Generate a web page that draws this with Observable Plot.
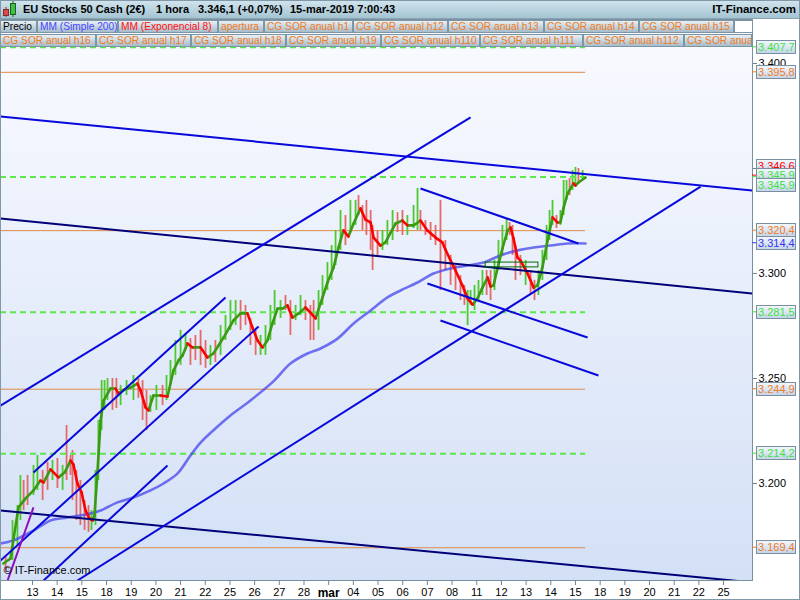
<!DOCTYPE html>
<html>
<head>
<meta charset="utf-8">
<script src="https://cdn.jsdelivr.net/npm/d3@7"></script>
<script src="https://cdn.jsdelivr.net/npm/@observablehq/plot@0.6"></script>
<style>
html,body{margin:0;padding:0;background:#fff;}
#wrap{position:relative;width:800px;height:600px;overflow:hidden;font-family:"Liberation Sans",Arial,sans-serif;}
#title{position:absolute;left:0;top:0;width:800px;height:19px;background:linear-gradient(#d2e5ee,#a4c4d2);border-bottom:1px solid #8aa4b2;box-sizing:border-box;font-weight:bold;font-size:11px;color:#000;}
#title span{position:absolute;top:3px;white-space:pre;}
#chart{position:absolute;left:0;top:19px;}
.leg{position:absolute;height:13px;box-sizing:border-box;border:1px solid #7d96a5;background:linear-gradient(#e8f0f4,#a6bccb);font-size:10.2px;line-height:11px;padding-left:2px;white-space:nowrap;overflow:hidden;}
#border{position:absolute;left:0;top:0;width:800px;height:600px;border:1px solid #8098a8;box-sizing:border-box;pointer-events:none;}
</style>
</head>
<body>
<div id="wrap">
  <div id="chart"></div>
  <div id="title">
    <svg style="position:absolute;left:2px;top:1px" width="18" height="17">
      <line x1="4" x2="4" y1="6" y2="16" stroke="#803030"/>
      <rect x="1.5" y="8.5" width="5" height="6" fill="#e04848" stroke="#803030"/>
      <line x1="11" x2="11" y1="0" y2="16" stroke="#206020"/>
      <rect x="8.5" y="2.5" width="5" height="11" fill="#40c040" stroke="#206020"/>
    </svg>
    <span style="left:23px">EU Stocks 50 Cash (2€)</span>
    <span style="left:156px">1 hora</span>
    <span style="left:198px">3.346,1 (+0,07%)</span>
    <span style="left:290px">15-mar-2019 7:00:43</span>
    <span style="right:4px;font-size:11.5px">IT-Finance.com</span>
  </div>
  <div id="legend"></div>
  <div id="border"></div>
</div>
<script>
// ---------- DATA ----------
// x axis: trading-day index (0 = 13 feb ... 28 = 25 mar)
const dayLabels = ["13","14","15","18","19","20","21","22","25","26","27","28","mar","04","05","06","07","08","11","12","13","14","15","18","19","20","21","22","25"];

// EMA 8 (hourly)
const emaDay = [-1.18,-0.89,-0.57,-0.28,0.04,0.32,0.45,0.73,1.05,1.30,
 1.54,1.66,1.82,1.99,2.15,2.31,2.43,2.51,2.63,2.76,
 2.88,3.16,3.36,3.48,3.73,3.97,4.25,4.38,4.58,4.70,
 4.90,5.19,5.47,5.71,5.92,6.08,6.28,6.48,6.81,7.09,
 7.33,7.74,8.14,8.43,8.71,8.91,9.12,9.32,9.52,9.72,
 9.93,10.13,10.33,10.53,10.78,11.06,11.26,11.47,11.67,11.95,
 12.20,12.40,12.60,12.80,13.01,13.29,13.49,13.70,13.82,14.10,
 14.30,14.51,14.71,14.99,15.19,15.44,15.72,16.00,16.33,16.61,
 16.73,16.94,17.14,17.42,17.63,17.83,18.03,18.23,18.44,18.56,
 18.68,18.84,19.04,19.25,19.37,19.49,19.65,19.77,20.06,20.30,
 20.46,20.66,20.87,21.07,21.27,21.39,21.52,21.68,21.92,22.00,
 22.12,22.41];
const emaPrice = [3161.9,3164.3,3188.6,3192.9,3196.7,3201.4,3200.5,3206.7,3202.9,3205.2,
 3210.9,3209.0,3200.0,3195.7,3187.1,3183.3,3182.4,3184.8,3205.2,3230.0,
 3239.5,3245.2,3245.2,3242.9,3244.8,3245.7,3247.6,3244.3,3236.2,3234.8,
 3241.9,3241.9,3241.4,3253.8,3258.6,3261.0,3266.7,3264.8,3264.8,3260.0,
 3261.9,3269.5,3277.6,3281.0,3281.0,3274.3,3268.1,3264.8,3268.1,3276.2,
 3283.3,3283.3,3284.8,3279.0,3281.0,3283.8,3281.4,3278.6,3285.7,3295.7,
 3302.9,3312.4,3320.5,3317.6,3323.8,3331.0,3325.7,3324.3,3317.1,3313.3,
 3314.8,3319.5,3323.8,3325.2,3322.9,3322.9,3325.2,3320.5,3317.1,3314.8,
 3311.4,3306.2,3301.4,3294.3,3288.1,3285.2,3288.1,3293.3,3298.1,3293.8,
 3294.3,3302.4,3311.9,3320.5,3321.9,3316.7,3307.6,3306.2,3300.0,3293.3,
 3294.3,3302.9,3315.7,3326.7,3324.3,3324.3,3331.4,3338.1,3342.9,3341.9,
 3343.3,3345.7];

// SMA 200
const smaDay = [-1.30,-0.77,0.04,0.73,1.42,2.35,2.76,3.44,4.09,4.78,5.31,5.88,6.40,6.81,7.41,8.02,8.83,9.76,10.45,11.14,11.67,12.36,13.01,13.70,14.38,14.91,15.60,16.25,16.94,17.63,18.27,18.96,19.65,20.30,20.99,21.68,22.41];
const smaPrice = [3171.4,3172.9,3177.6,3182.4,3183.8,3185.7,3187.1,3191.0,3193.3,3196.7,3200.0,3204.8,3213.3,3219.5,3226.2,3232.4,3239.5,3248.6,3257.1,3261.9,3264.3,3269.0,3276.2,3282.4,3288.6,3291.9,3295.7,3300.0,3302.4,3303.8,3305.2,3308.6,3311.0,3312.4,3313.3,3314.3,3314.3];

// hourly candle ranges (sampled)
const candleDay = [-1.09,-0.81,-0.61,-0.49,-0.36,-0.20,0.04,0.20,0.41,0.61,
 0.81,1.01,1.22,1.38,1.54,1.62,1.78,1.94,2.11,2.27,
 2.39,2.55,2.67,2.80,2.92,3.04,3.24,3.40,3.57,3.81,
 4.09,4.29,4.46,4.62,4.78,5.02,5.27,5.43,5.59,5.79,
 6.00,6.20,6.40,6.60,6.81,7.01,7.21,7.41,7.62,7.82,
 8.02,8.23,8.43,8.63,8.83,9.04,9.24,9.44,9.64,9.81,
 10.05,10.25,10.45,10.66,10.86,11.06,11.26,11.39,11.59,11.75,
 11.95,12.12,12.28,12.48,12.68,12.88,13.09,13.21,13.37,13.53,
 13.70,13.78,13.98,14.18,14.38,14.59,14.79,14.99,15.19,15.44,
 15.60,15.72,15.92,16.13,16.33,16.53,16.73,16.94,17.14,17.34,
 17.50,17.63,17.75,17.91,18.07,18.23,18.40,18.56,18.72,18.88,
 19.04,19.21,19.33,19.45,19.57,19.77,19.98,20.18,20.34,20.50,
 20.66,20.83,20.95,21.07,21.23,21.39,21.52,21.64,21.76,21.88,
 22.00,22.12,22.29];
const candleHigh = [3165.7,3182.4,3189.5,3203.8,3201.4,3203.8,3208.6,3213.3,3206.2,3210.0,
 3211.0,3211.9,3208.6,3227.6,3213.3,3215.7,3206.2,3201.4,3191.9,3189.5,
 3187.1,3206.2,3230.0,3249.0,3249.0,3250.0,3250.0,3250.0,3246.7,3249.0,
 3251.4,3250.0,3249.0,3244.3,3241.9,3246.7,3246.7,3251.4,3258.6,3268.1,
 3272.9,3271.4,3269.0,3270.5,3272.9,3268.1,3265.7,3268.1,3275.2,3280.0,
 3287.1,3287.1,3287.1,3284.8,3278.6,3272.9,3270.5,3275.2,3284.8,3291.9,
 3287.1,3289.5,3287.1,3284.8,3289.5,3287.1,3284.8,3287.1,3291.9,3299.0,
 3305.2,3313.3,3320.5,3330.0,3327.6,3334.8,3334.8,3337.1,3332.4,3334.8,
 3330.0,3322.9,3320.5,3320.5,3325.2,3330.0,3329.0,3330.0,3327.6,3332.4,
 3340.5,3330.0,3325.2,3324.3,3322.9,3334.8,3315.7,3308.6,3303.8,3299.0,
 3294.3,3291.9,3291.9,3294.3,3296.7,3301.4,3301.4,3301.4,3306.2,3315.7,
 3322.9,3326.2,3324.3,3322.9,3313.3,3308.6,3306.2,3301.4,3296.7,3301.4,
 3311.0,3322.9,3330.0,3334.8,3327.6,3330.0,3344.3,3344.3,3345.2,3349.0,
 3350.5,3350.0,3349.0];
const candleLow = [3157.6,3163.3,3170.5,3182.4,3187.1,3189.5,3194.3,3196.7,3191.9,3196.7,
 3201.4,3197.6,3196.7,3201.4,3203.8,3191.9,3182.4,3180.0,3177.6,3176.7,
 3177.6,3180.0,3201.4,3225.2,3234.8,3239.5,3234.8,3235.7,3237.1,3241.9,
 3239.5,3240.5,3230.0,3225.2,3233.8,3234.8,3237.1,3239.5,3246.7,3251.4,
 3256.2,3263.3,3256.2,3258.6,3256.2,3254.8,3256.2,3257.6,3261.0,3268.1,
 3272.9,3275.2,3272.9,3275.2,3265.7,3261.0,3261.0,3261.0,3268.1,3275.2,
 3278.6,3282.4,3270.5,3277.6,3280.0,3277.6,3268.1,3268.1,3272.9,3284.8,
 3291.9,3296.7,3303.8,3311.0,3313.3,3320.5,3322.9,3327.6,3320.5,3318.1,
 3311.0,3301.4,3308.6,3311.0,3313.3,3315.7,3319.5,3318.1,3318.1,3321.4,
 3320.5,3320.5,3318.1,3315.7,3313.3,3291.9,3301.4,3294.3,3291.9,3287.1,
 3284.8,3275.2,3284.8,3282.4,3287.1,3289.5,3289.5,3287.1,3291.9,3301.4,
 3308.6,3315.7,3318.1,3308.6,3296.7,3299.0,3294.3,3289.5,3287.1,3289.5,
 3296.7,3306.2,3315.7,3322.9,3321.4,3322.9,3327.6,3334.8,3337.1,3339.5,
 3341.9,3343.3,3344.3];
const candleUp = [0,1,1,1,0,0,1,1,0,0,
 1,0,1,0,0,0,0,0,0,0,
 1,1,1,1,1,1,0,0,1,1,
 1,0,0,0,1,1,0,1,1,1,
 1,1,0,0,0,0,1,0,1,1,
 1,1,0,0,0,0,1,1,1,1,
 1,0,0,1,1,0,0,0,1,1,
 1,1,1,1,0,1,1,0,0,0,
 0,0,0,1,1,1,0,0,1,1,
 1,0,0,0,0,0,0,0,0,0,
 0,1,1,1,1,1,0,0,1,1,
 1,1,0,0,0,0,1,0,0,1,
 1,1,1,1,0,1,1,1,0,1,
 1,0,1];

// trend lines (start day, start price, end day, end price, kind)
const trendX1 = [-1.297,-1.297,-1.297,-1.297,1.82,0.04,-1.297,0.45,-1.01,15.72,16.00,16.53];
const trendY1 = [3374.8,3326.2,3187.1,3237.1,3153.8,3205.2,3163.3,3153.8,3153.8,3340.5,3295.2,3277.6];
const trendX2 = [29.173,29.173,29.173,17.75,27.07,7.82,9.16,5.47,0.04,22.12,22.49,22.93];
const trendY2 = [3339.5,3290.5,3152.9,3374.3,3341.4,3288.6,3274.8,3208.6,3188.6,3314.3,3269.5,3251.4];
const trendKind = ["blue","navy","navy","blue","blue","blue","blue","blue","purple","blue","blue","blue"];

// horizontal levels
const greenLevels = [3407.7, 3345.9, 3281.5, 3214.2];
const orangeLevels = [3395.8, 3320.4, 3244.9, 3169.4];

// small rectangle (days / prices)
const boxX = [18.36, 20.50];
const boxY = [3302.9, 3305.2];

// right-hand price tags
const tagValues = [3407.7, 3395.8, 3346.6, 3345.9, 3320.4, 3314.4, 3281.5, 3244.9, 3214.2, 3169.4];
const tagKinds = ["green","orange","red","green","orange","blue","green","orange","green","orange"];
const yTicks = [3200, 3250, 3300, 3350, 3400];

// legend
const legendRow1 = ["Precio","MM (Simple 200)","MM (Exponencial 8)","apertura","CG SOR anual h1","CG SOR anual h12","CG SOR anual h13","CG SOR anual h14","CG SOR anual h15"];
const legendRow2 = ["CG SOR anual h16","CG SOR anual h17","CG SOR anual h18","CG SOR anual h19","CG SOR anual h110","CG SOR anual h111","CG SOR anual h112","CG SOR anual h113"];

// ---------- LEGEND (HTML) ----------
const legColor = t => t === "Precio" ? "#000" : t.startsWith("MM (S") ? "#4646ff" : t.startsWith("MM (E") ? "#ff1010" : "#f07a1e";
const row1Geo = [[0,37],[37,81],[118,100],[218,46],[264,89],[353,95],[448,96],[544,95],[639,95]];
const row2Geo = [[0,96],[96,95],[191,95],[286,95],[381,99],[480,103],[583,101],[684,68]];
const legDiv = document.getElementById("legend");
function addLeg(text, geo, top) {
  const d = document.createElement("div");
  d.className = "leg";
  d.style.left = geo[0] + "px"; d.style.width = geo[1] + "px"; d.style.top = top + "px";
  d.style.color = legColor(text);
  d.textContent = text;
  legDiv.appendChild(d);
}
legendRow1.forEach((t, i) => addLeg(t, row1Geo[i], 20));
legendRow2.forEach((t, i) => addLeg(t, row2Geo[i], 34));
{
  const w = document.createElement("div");
  w.className = "leg"; w.style.left = "734px"; w.style.width = "19px"; w.style.top = "20px"; w.style.background = "#fff";
  legDiv.appendChild(w);
}

// ---------- CHART ----------
const X0 = -1.297, X1 = 29.173, Y0 = 3153.8, Y1 = 3420.95;
const lastDay = emaDay[emaDay.length - 1];
const loc = d3.formatLocale({decimal: ",", thousands: ".", grouping: [3], currency: ["", ""]});
const fmt1 = loc.format(",.1f"), fmt0 = loc.format(",");

const segs = emaDay.slice(1).map((d, i) => ({x1: emaDay[i], y1: emaPrice[i], x2: d, y2: emaPrice[i + 1]}));
const segUp = segs.filter(s => s.y2 >= s.y1), segDn = segs.filter(s => s.y2 < s.y1);
const sma = smaDay.map((d, i) => ({day: d, price: smaPrice[i]}));
const candles = candleDay.map((d, i) => ({day: d, hi: candleHigh[i], lo: candleLow[i], up: candleUp[i]}));
const trends = trendX1.map((d, i) => ({x1: d, y1: trendY1[i], x2: trendX2[i], y2: trendY2[i], kind: trendKind[i]}));
const box = [{x1: boxX[0], x2: boxX[1], y1: boxY[0], y2: boxY[1]}];
const tagColor = {green: "#3ee23e", orange: "#f07a1e", red: "#ff0000", blue: "#3434f0"};

function background(index, scales, values, dims) {
  const g = d3.create("svg:g");
  const gr = g.append("defs").append("linearGradient").attr("id", "bgGrad").attr("x1", 0).attr("y1", 0).attr("x2", 0).attr("y2", 1);
  gr.append("stop").attr("offset", "0%").attr("stop-color", "#fafbff");
  gr.append("stop").attr("offset", "100%").attr("stop-color", "#d3e0f6");
  g.append("rect").attr("x", dims.marginLeft).attr("y", dims.marginTop)
    .attr("width", dims.width - dims.marginLeft - dims.marginRight)
    .attr("height", dims.height - dims.marginTop - dims.marginBottom)
    .attr("fill", "url(#bgGrad)");
  return g.node();
}

const tickIdx = d3.range(dayLabels.length);
const chart = Plot.plot({
  width: 800, height: 581,
  marginLeft: 0, marginRight: 48, marginTop: 0, marginBottom: 20,
  x: {domain: [X0, X1]},
  y: {domain: [Y0, Y1]},
  style: {fontFamily: "Liberation Sans, Arial, sans-serif", fontSize: "11px", background: "white", color: "black"},
  marks: [
    background,
    Plot.ruleY(orangeLevels, {y: d => d, x1: () => X0, x2: () => lastDay, stroke: "#e08a48", strokeWidth: 1}),
    Plot.ruleX(candles.filter(c => c.up), {x: "day", y1: "lo", y2: "hi", stroke: "#4cc830", strokeWidth: 1.8}),
    Plot.ruleX(candles.filter(c => !c.up), {x: "day", y1: "lo", y2: "hi", stroke: "#e46a6a", strokeWidth: 1.8}),
    Plot.ruleY(greenLevels, {y: d => d, x1: () => X0, x2: () => lastDay, stroke: "#5ae84a", strokeWidth: 2, strokeDasharray: "6,4"}),
    Plot.line(sma, {x: "day", y: "price", stroke: "#4545ec", strokeWidth: 2.6, strokeOpacity: 0.75, curve: "catmull-rom"}),
    Plot.link(segUp, {x1: "x1", y1: "y1", x2: "x2", y2: "y2", stroke: "#3a9a12", strokeWidth: 2.6, strokeLinecap: "round"}),
    Plot.link(segDn, {x1: "x1", y1: "y1", x2: "x2", y2: "y2", stroke: "#ff0000", strokeWidth: 2.6, strokeLinecap: "round"}),
    Plot.link(trends.filter(t => t.kind === "navy"), {x1: "x1", y1: "y1", x2: "x2", y2: "y2", stroke: "#000078", strokeWidth: 2, clip: true}),
    Plot.link(trends.filter(t => t.kind === "blue"), {x1: "x1", y1: "y1", x2: "x2", y2: "y2", stroke: "#0808dc", strokeWidth: 2, clip: true}),
    Plot.link(trends.filter(t => t.kind === "purple"), {x1: "x1", y1: "y1", x2: "x2", y2: "y2", stroke: "#8a10c0", strokeWidth: 2, clip: true}),
    Plot.rect(box, {x1: "x1", x2: "x2", y1: "y1", y2: "y2", stroke: "#006a00", fill: "none"}),
    Plot.frame({stroke: "#7890a0"}),
    Plot.axisX(tickIdx.filter(i => dayLabels[i] !== "mar"), {tickFormat: i => dayLabels[i], tickSize: 5, tickPadding: 3, fontSize: 11, stroke: "#6f8797", fill: "black", label: null}),
    Plot.axisX(tickIdx.filter(i => dayLabels[i] === "mar"), {tickFormat: i => dayLabels[i], tickSize: 5, tickPadding: 3, fontSize: 12, fontWeight: "bold", stroke: "#6f8797", fill: "black", label: null}),
    Plot.axisY(yTicks, {anchor: "right", tickFormat: d => fmt0(d), tickSize: 4, tickPadding: 2, fontSize: 11, stroke: "#6f8797", fill: "black", label: null}),
    Plot.text(["© IT-Finance.com"], {frameAnchor: "bottom-left", dx: 3, dy: -7, textAnchor: "start", fontSize: 11, fill: "black"})
  ]
});

// price tags on the right axis, placed with the plot's own y scale
{
  const yScale = chart.scale("y");
  const svg = d3.select(chart);
  const defs = svg.append("defs");
  const gr = defs.append("linearGradient").attr("id", "tagGrad").attr("x1", 0).attr("y1", 0).attr("x2", 0).attr("y2", 1);
  gr.append("stop").attr("offset", "0%").attr("stop-color", "#f4f8fd");
  gr.append("stop").attr("offset", "100%").attr("stop-color", "#c3d3ea");
  const x0 = 800 - 48;
  const g = svg.append("g").attr("text-anchor", "start").attr("font-family", "Liberation Sans, Arial, sans-serif").attr("font-size", 11);
  const items = tagValues.map((v, i) => ({v, color: tagColor[tagKinds[i]], y: yScale.apply(v)}));
  items.forEach(it => g.append("line").attr("x1", x0).attr("x2", x0 + 4).attr("y1", it.y).attr("y2", it.y).attr("stroke", it.color).attr("stroke-width", 1));
  const list = [];
  items.forEach((it, i) => {
    const next = items[i + 1];
    if (it.done) return;
    if (next && Math.abs(next.y - it.y) < 8) {
      list.push({...it, dy: -9}); list.push({...next, dy: -2}); list.push({...next, dy: 8}); next.done = true;
    } else list.push({...it, dy: 0});
  });
  list.forEach(it => {
    const y = Math.round(it.y + it.dy);
    g.append("rect").attr("x", x0 + 4.5).attr("y", y - 6.5).attr("width", 39).attr("height", 13)
      .attr("fill", "url(#tagGrad)").attr("stroke", "#7a8fa0").attr("stroke-width", 1);
    g.append("text").attr("x", x0 + 6).attr("y", y + 4).attr("fill", it.color).attr("text-anchor", "start").text(fmt1(it.v));
  });
}
document.getElementById("chart").appendChild(chart);
</script>
</body>
</html>
